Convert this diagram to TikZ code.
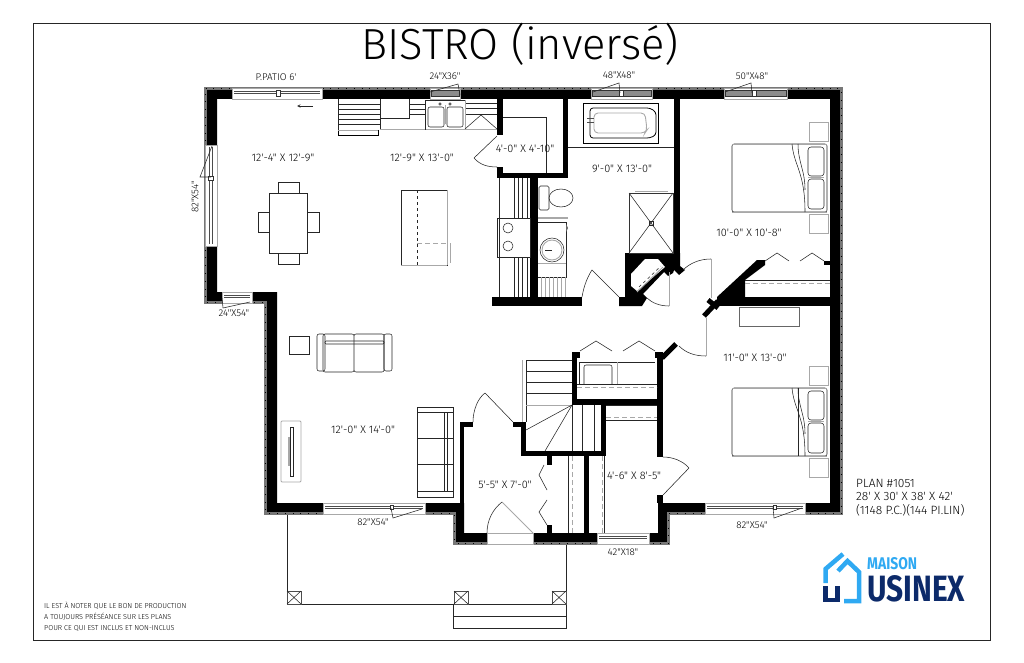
\documentclass[tikz,border=0pt]{standalone}
\usepackage{fontspec}
\newfontfamily\planfont{Fira Sans Light}
\newfontfamily\logofont{Fira Sans}
\definecolor{wallgray}{HTML}{777777}
\definecolor{softgray}{HTML}{A8A8A8}
\definecolor{logoblue}{HTML}{2FA9F2}
\definecolor{logonavy}{HTML}{0C2A6A}
\tikzset{
  roomlabel/.style={font=\planfont\fontsize{10.9}{12}\selectfont,inner sep=0pt},
  winlabel/.style={font=\planfont\fontsize{9.8}{11}\selectfont,inner sep=0pt},
  planlabel/.style={anchor=west,font=\planfont\fontsize{12}{13}\selectfont,inner sep=0pt},
  notelabel/.style={anchor=west,font=\planfont\fontsize{7.2}{8}\selectfont,inner sep=0pt},
  fine/.style={line width=.55pt,draw=black!85},
  soft/.style={line width=.9pt,draw=softgray},
  softdash/.style={line width=.9pt,draw=softgray,dashed,dash pattern=on 5pt off 3pt},
  glass/.style={line width=.6pt,draw=softgray,fill=white}
}
\begin{document}
\begin{tikzpicture}[x=1pt,y=-1pt,>=stealth]
  \useasboundingbox (0,0) rectangle (1024,663);
  \draw[line width=.9pt,draw=black!85] (33,23) rectangle (990,640);
  % porch
  \draw[fine] (287,514)--(287,604)--(566,604)--(566,544);
  \draw[fine] (453,604)--(453,628)--(566,628)--(566,604) (453,616)--(566,616);
  \foreach \x in {287,454,552}
    {
    \draw[line width=.9pt,draw=black!70] (\x,591) rectangle (\x+14,604);
    \draw[fine] (\x,591)--(\x+14,604) (\x+14,591)--(\x,604);
    }
  % outer walls
  \fill[black,even odd rule]
    (205,88)--(842,88)--(842,514)--(669,514)--(669,544)--(454,544)--(454,514)--(265,514)--(265,303)--(205,303)--cycle
    (217,99)--(830,99)--(830,503)--(658,503)--(658,533)--(464,533)--(464,503)--(277,503)--(277,292)--(217,292)--cycle;
  \draw[wallgray,line width=2.4pt]
    (205.5,88.5)--(841.5,88.5)--(841.5,513.5)--(668.5,513.5)--(668.5,543.5)--(454.5,543.5)--(454.5,513.5)--(265.5,513.5)--(265.5,302.5)--(205.5,302.5)--cycle;
  \draw[black,line width=1pt,dash pattern=on .8pt off 7pt]
    (205.5,88.5)--(841.5,88.5)--(841.5,513.5)--(668.5,513.5)--(668.5,543.5)--(454.5,543.5)--(454.5,513.5)--(265.5,513.5)--(265.5,302.5)--(205.5,302.5)--cycle;
  % inner walls
  \foreach \xa/\ya/\xb/\yb in {497/99/503/135,497/167/503/178,497/173/568/178,563/99/568/178,530/178/538/297,
      492/297/582/306,674/99/680/256,460/422/464/533,460/422/473/427,513/422/526/427,521/422/526/456,521/451/606/456,
      601/399/606/456,584/456/589/533,547/456/552/465,547/525/552/533,572/352/577/405,572/352/580/358,
      655/352/663/358,572/399/663/405,657/352/663/457,657/495/663/503,717/297/830/306,824/261/830/265}
    \fill (\xa,\ya) rectangle (\xb,\yb);
  % closet between the bath and the bedroom
  \fill (625,253)--(680,253)--(680,266)--(685,270)--(679,275)--(674,270)--(673,273)--(668,276)--(664,272)--(643,294)--(647,298)--(642,306)--(619,306)--(619,297)--(625,297)--cycle;
  \fill[white] (631,274)--(645,259)--(658,259)--(665,267)--(637,291)--(631,286)--cycle;
  \draw[soft] (637,292)--(663,267);
  \draw[fine,dashed] (639,287)--(661,266);
  \fill (717,297)--(757,260)--(765,260)--(765,265)--(745,280)--(745,297)--cycle;
  \draw[line width=5pt,black] (704,316)--(718,301);
  \draw[line width=5pt,black] (708,300)--(718,308);
  \draw[line width=5pt,black] (662,358)--(676,344);
  % windows
  \foreach \xa/\xb/\ya/\yb in {232/322/88/99,430/460/88/99,591/652/88/99,724/787/88/99,
      222/252/292/303,323/425/503/514,597/649/533/544,705/805/503/514}
    {
    \draw[glass] (\xa,\ya) rectangle (\xb,\yb);
    \draw[line width=.5pt,black!70] (\xa+2,\ya+3.5)--(\xb-2,\ya+3.5) (\xa+2,\ya+5.5)--(\xb-2,\ya+5.5);
    }
  \foreach \xa/\xb in {431/459,592/651,725/786}
    \fill[black!45,draw=black!80,line width=.4pt] (\xa,90) rectangle (\xb,96);
  \foreach \x in {390,773}
    \draw[line width=.5pt,black!80,fill=white] (\x,505) rectangle (\x+3,509);
  \foreach \x in {276,619,752}
    \draw[line width=.5pt,black!80,fill=white] (\x,90) rectangle (\x+4,96);
  \draw[glass] (205,145) rectangle (217,246);
  \draw[line width=.5pt,black!70] (209,147)--(209,244) (212,147)--(212,244);
  \draw[line width=.5pt,black!80,fill=white] (208,176) rectangle (213,180);
  \draw[glass] (487,533) rectangle (533,544);
  % window leaders
  \draw[fine] (430,92)--(458,84)--(460,95) (593,92)--(619,83)--(620,93) (725,92)--(751,83)--(752,93);
  \draw[fine] (212,146)--(200,177)--(211,177) (223,308)--(250,302) (223,308)--(222,298);
  \draw[fine] (422,509)--(393,518)--(391,508) (802,508)--(774,518)--(773,507);
  % doors
  \draw[fine] (474,158)--(497,136) (474,158) .. controls (480,165) and (488,167) .. (497,167);
  \draw[soft] (533,533)--(502,502);
  \draw[fine] (502,502) .. controls (493,509) and (487,520) .. (487,533);
  \draw[fine] (513,422)--(485,393) (485,393) .. controls (478,398) and (473,410) .. (473,422);
  \draw[fine] (582,297) .. controls (584,285) and (588,276) .. (592,270)--(619,297);
  \draw[soft] (711,259)--(711,298);
  \draw[fine] (683,270) .. controls (690,263) and (700,259) .. (711,259);
  \draw[soft] (669,272)--(669,306);
  \draw[fine] (647,298) .. controls (652,303) and (660,306) .. (669,306);
  \draw[soft] (706,318)--(706,356);
  \draw[fine] (679,346) .. controls (686,353) and (695,356) .. (706,356);
  \draw[fine] (663,495)--(689,468) (689,468) .. controls (683,461) and (673,457) .. (663,457);
  % folding doors
  \foreach \x in {765,800} \draw[fine] (\x,261)--(\x+12,253)--(\x+24,261);
  \foreach \x in {580,623} \draw[fine] (\x,351)--(\x+16,341)--(\x+32,351);
  \draw[fine] (544,465)--(539,475)--(547,490) (547,500)--(539,512)--(547,525);
  % kitchen
  \foreach \y in {104,109,114,119,124} \draw[fine] (338,\y)--(380,\y);
  \foreach \y in {104,109,114} \draw[fine] (409,\y)--(425,\y);
  \foreach \y in {103,108,114} \draw[fine] (465,\y)--(497,\y);
  \draw[fine] (338,99)--(338,130) (380,99)--(380,129) (380,118)--(409,118)--(409,99);
  \draw[line width=.6pt] (338,130) rectangle (378,135);
  \draw[soft] (338,130)--(378,130) (380,129)--(497,129);
  \draw[fine] (425,100) rectangle (465,129);
  \draw[soft] (426,129)--(465,129)--(465,100);
  \draw[fine,rounded corners=2pt] (428,107) rectangle (444,127) (447,107) rectangle (463,127);
  \draw[soft] (445.5,105)--(445.5,124);
  \foreach \x in {440,450} \draw[fine] (\x,104) circle (1.3);
  \draw[fine] (465,129)--(481,115)--(497,129);
  \draw[fine] (499,178)--(499,297) (497,218) rectangle (530,257);
  \foreach \y in {228,246} \draw[fine] (508,\y) circle (5);
  \foreach \x in {514,518,522,527}
    \draw[fine] (\x,178)--(\x,218) (\x,257)--(\x,297);
  % island
  \draw[fine] (401,190) rectangle (447,265);
  \draw[soft] (447,190)--(447,265) (401,265)--(447,265);
  \draw[fine,dashed] (417,190)--(417,265);
  \draw[softdash] (417,243)--(447,243);
  \draw[soft] (450,243)--(450,263);
  % table
  \draw[fine] (269,193) rectangle (307,253);
  \foreach \xa/\ya/\xb/\yb in {278/182/299/193,278/253/299/264,258/212/269/232,307/212/319/232}
    \draw[fine] (\xa,\ya) rectangle (\xb,\yb);
  \draw[->,fine] (313,106)--(297,106);
  % storage and bath
  \draw[fine] (503,117)--(546,117)--(546,173);
  \draw[line width=.7pt] (583,103) rectangle (658,143);
  \draw[line width=.8pt,rounded corners=3pt] (590,108)--(650,108)--(656,112)--(656,135)--(650,138)--(590,138)--cycle;
  \draw[soft,rounded corners=4pt] (594,113)--(645,113)--(647,130)--(645,133)--(594,133)--cycle;
  \draw[line width=.8pt,draw=black!70] (587,118)--(594,118) (587,122)--(594,122);
  \draw[fine] (568,147)--(674,147);
  \draw[fine,rounded corners=1.5pt] (539,186) rectangle (549,210);
  \draw[fine] (561,198) ellipse (12 and 9);
  \draw[soft,line width=1.6pt] (538,218)--(568,218);
  \draw[fine] (538,222)--(566,222)--(566,277)--(538,277);
  \fill[black!60] (566,224)--(568,228)--(566,232)--cycle;
  \draw[fine] (552,250) circle (12);
  \draw[soft] (552,250) circle (10);
  \draw[fine] (545,250)--(552,250);
  \draw[soft,line width=.5pt] (538,263)--(566,263);
  \foreach \x in {541,545,549,553,557,561,565} \draw[soft,line width=.6pt] (\x,277)--(\x,297);
  \draw[fine] (629,193)--(673,253) (673,193)--(629,253);
  \draw[line width=.9pt,draw=black!80] (629,193) rectangle (673,253);
  \draw[fine] (649,221) rectangle (653,225);
  \draw[soft] (635,191)--(668,191);
  % bedrooms
  \foreach \yb in {144,388}
    {
    \draw[fine,rounded corners=2pt] (732,\yb) rectangle (827,\yb+68);
    \draw[soft] (732,\yb)--(827,\yb) (732,\yb+68)--(827,\yb+68);
    \draw[fine] (792,\yb) .. controls (794,\yb+22) and (805,\yb+28) .. (805,\yb+68);
    \draw[fine] (798,\yb) .. controls (798,\yb+18) and (805,\yb+26) .. (805,\yb+46);
    \draw[fine,rounded corners=3pt] (808,\yb+3) rectangle (824,\yb+32) (808,\yb+35) rectangle (824,\yb+65);
    \draw[soft] (808,\yb+33.5)--(824,\yb+33.5);
    \draw[soft] (809,\yb-22) rectangle (828,\yb-3) (809,\yb+70) rectangle (828,\yb+89);
    }
  \draw[fine] (798,388)--(798,456);
  \draw[softdash] (745,283)--(830,283);
  \draw[fine] (745,280)--(830,280);
  \draw[line width=.6pt,draw=black!60] (739,307) rectangle (799,326);
  % laundry
  \draw[fine] (579,362)--(655,362) (579,362)--(579,384) (577,384)--(657,384);
  \draw[fine,rounded corners=2pt] (584,384)--(584,365)--(612,365)--(612,384);
  \draw[soft] (617,362)--(617,384);
  \draw[softdash] (577,387.5)--(657,387.5);
  % stairs
  \draw[soft] (522,360)--(522,422);
  \draw[fine] (526,360)--(526,422) (526,360)--(572,360);
  \foreach \y in {371,382,393} \draw[fine] (526,\y)--(572,\y);
  \draw[soft] (526,405)--(572,405);
  \draw[fine] (572,405)--(526,430) (572,405)--(545,451);
  \foreach \x in {572,582,594} \draw[fine] (\x,405)--(\x,451);
  % closets under the stairs
  \draw[fine] (568,456)--(568,533) (604,456)--(604,533);
  \draw[softdash] (572,456)--(572,533);
  \draw[softdash] (602,456)--(602,533);
  \draw[fine] (606,405)--(657,405) (606,420)--(657,420);
  \draw[softdash] (606,417)--(657,417);
  % living room
  \draw[fine] (289,336) rectangle (309,354);
  \draw[fine,rounded corners=2pt] (323,334) rectangle (354,372) (354,334) rectangle (384,372);
  \draw[fine,rounded corners=2pt] (317,334) rectangle (325,371) (384,334) rectangle (392,371);
  \draw[fine,rounded corners=1pt] (325,341) rectangle (384,344);
  \draw[fine] (417,407) rectangle (453,497) (417,412)--(453,412) (417,438)--(453,438) (417,464)--(453,464) (417,491)--(453,491);
  \draw[fine] (444,412)--(444,491) (447,412)--(447,491);
  \draw[soft,rounded corners=1pt] (281,421) rectangle (301,482);
  \draw[fine] (290,427) rectangle (293,476);
  \draw[soft,line width=1.4pt] (289,437)--(289,466);
  % labels
  \node[font=\planfont\fontsize{43.5}{46}\selectfont,inner sep=0pt] (title) at (520,44.5) {BISTRO (inversé)};
  \node[winlabel] (patio) at (276,77) {P.PATIO 6'};
  \node[winlabel] (wina) at (445,76) {24"X36"};
  \node[winlabel] (winb) at (619,75.5) {48"X48"};
  \node[winlabel] (winc) at (752,76) {50"X48"};
  \node[winlabel,rotate=90] (wind) at (195,197) {82"X54"};
  \node[winlabel] (wine) at (234,313) {24"X54"};
  \node[winlabel] (winf) at (373,522) {82"X54"};
  \node[winlabel] (wing) at (623,552) {42"X18"};
  \node[winlabel] (winh) at (752,525) {82"X54"};
  \node[roomlabel] (dining) at (283,158) {12'-4" X 12'-9"};
  \node[roomlabel] (kitchen) at (422,158) {12'-9" X 13'-0"};
  \node[roomlabel] (pantry) at (525,149) {4'-0" X 4'-10"};
  \node[roomlabel] (bath) at (622,169) {9'-0" X 13'-0"};
  \node[roomlabel] (bedroomb) at (749,233) {10'-0" X 10'-8"};
  \node[roomlabel] (bedrooma) at (755,358) {11'-0" X 13'-0"};
  \node[roomlabel] (living) at (363,430) {12'-0" X 14'-0"};
  \node[roomlabel] (entry) at (505,485) {5'-5" X 7'-0"};
  \node[roomlabel] (office) at (634,476) {4'-6" X 8'-5"};
  \node[planlabel] (plana) at (856,483) {PLAN \#1051};
  \node[planlabel] (planb) at (856,496) {28' X 30' X 38' X 42'};
  \node[planlabel] (planc) at (856,510) {(1148 P.C.)(144 PI.LIN)};
  \node[notelabel] (notea) at (44,606) {IL EST À NOTER QUE LE BON DE PRODUCTION};
  \node[notelabel] (noteb) at (44,617) {A TOUJOURS PRÉSÉANCE SUR LES PLANS};
  \node[notelabel] (notec) at (44,628) {POUR CE QUI EST INCLUS ET NON-INCLUS};
  % logo
  \draw[logoblue,line width=4.5pt] (843,554)--(825.5,569)--(825.5,583);
  \draw[logoblue,line width=4.5pt] (838,571)--(847.5,561)--(859,572)--(859,601)--(844,601);
  \draw[logonavy,line width=4.5pt] (825.5,586)--(825.5,600)--(837.5,600)--(837.5,586);
  \node[anchor=south west,inner sep=0pt,text=logoblue] (maison) at (867,570) {\resizebox{50pt}{12pt}{\logofont\bfseries MAISON}};
  \node[anchor=south west,inner sep=0pt,text=logonavy] (usinex) at (867,602) {\resizebox{98pt}{26pt}{\logofont\bfseries USINEX}};
\end{tikzpicture}
\end{document}
